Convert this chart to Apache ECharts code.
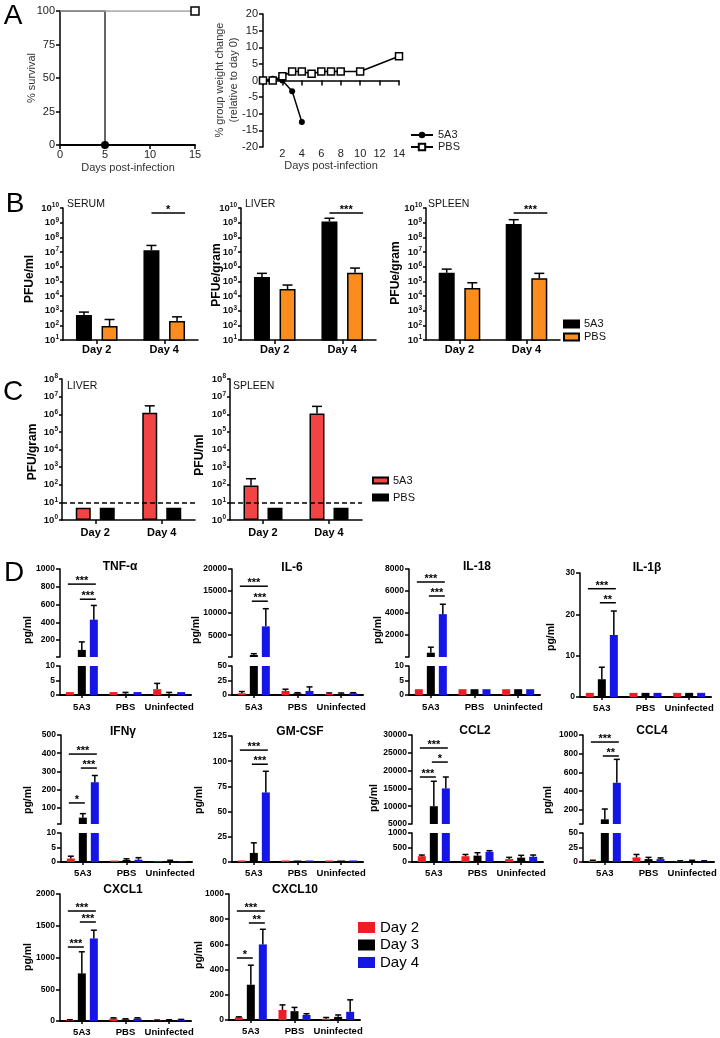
<!DOCTYPE html>
<html>
<head>
<meta charset="utf-8">
<script src="https://cdn.jsdelivr.net/npm/echarts@6.0.0/dist/echarts.min.js"></script>
<style>
html,body{margin:0;padding:0;background:#fff;}
#chart{width:720px;height:1038px;}
</style>
</head>
<body>
<div id="chart"></div>
<script>
// ================= DATA =================
// Panel A - survival
const survDays5A3 = [0, 5];
const survPct5A3 = [100, 0];
const survDaysPBS = [0, 15];
const survPctPBS = [100, 100];
// Panel A - weight change
const weightDays5A3 = [0, 1, 2, 3, 4];
const weightChange5A3 = [0, 0.5, 0, -3.2, -12.5];
const weightDaysPBS = [0, 1, 2, 3, 4, 5, 6, 7, 8, 10, 14];
const weightChangePBS = [0, 0, 1.3, 2.7, 2.7, 2, 2.7, 2.7, 2.7, 2.7, 7.3];

// Panel B - viral titers (PFUe)
const dayCats = ['Day 2', 'Day 4'];
const serum5A3 = [500, 1.3e7];
const serum5A3Sd = [300, 1.5e7];
const serumPBS = [90, 200];
const serumPBSSd = [160, 180];
const liver5A3 = [2e5, 1.2e9];
const liver5A3Sd = [1.5e5, 8e8];
const liverPBS = [3e4, 3.8e5];
const liverPBSSd = [2.6e4, 4.2e5];
const spleen5A3 = [3.8e5, 8e8];
const spleen5A3Sd = [3e5, 8e8];
const spleenPBS = [3.5e4, 1.6e5];
const spleenPBSSd = [4.5e4, 1.9e5];
// [category, y value, from bar, to bar, label]
const serumSig = [[1, 4.6e9, 0, 1, '*']];
const liverSig = [[1, 4.6e9, 0, 1, '***']];
const spleenSig = [[1, 4.6e9, 0, 1, '***']];

// Panel C - infectious virus (PFU)
const cLiver5A3 = [5, 1.2e6];
const cLiver5A3Sd = [0, 1.8e6];
const cLiverPBS = [5, 5];
const cSpleen5A3 = [90, 1.1e6];
const cSpleen5A3Sd = [130, 1.7e6];
const cSpleenPBS = [5, 5];
const detectionLimit = 10;

// Panel D - cytokines (pg/ml); arrays are per group [5A3, PBS, Uninfected]
const groups = ['5A3', 'PBS', 'Uninfected'];
const dayNames = ['Day 2', 'Day 3', 'Day 4'];

const tnfDay2 = [1, 1, 2],        tnfDay3 = [90, 0.4, 0.4],     tnfDay4 = [430, 1, 1];
const tnfSd2 = [0, 0, 2],         tnfSd3 = [90, 0.5, 0.5],      tnfSd4 = [160, 0, 0];
const il6Day2 = [3, 7, 2],        il6Day3 = [500, 3, 2],        il6Day4 = [7000, 7, 3];
const il6Sd2 = [3, 3, 1.5],       il6Sd3 = [300, 1, 1.5],       il6Sd4 = [4000, 7, 1];
const il18Day2 = [2, 2, 2],       il18Day3 = [400, 2, 2],       il18Day4 = [3900, 2, 2];
const il18Sd2 = [0, 0, 0],        il18Sd3 = [500, 0, 0],        il18Sd4 = [900, 0, 0];
const il1bDay2 = [1, 1, 1],       il1bDay3 = [4.3, 1, 1],       il1bDay4 = [15, 1, 1];
const il1bSd2 = [0, 0, 0],        il1bSd3 = [2.9, 0, 0],        il1bSd4 = [5.8, 0, 0];
const ifngDay2 = [1.2, 0.5, 0.2], ifngDay3 = [45, 0.7, 0.3],    ifngDay4 = [240, 0.8, 0.3];
const ifngSd2 = [0.8, 0, 0],      ifngSd3 = [22, 0.4, 0.3],     ifngSd4 = [37, 0.7, 0];
const gmcsfDay2 = [1.5, 1.5, 1.5], gmcsfDay3 = [9, 1.5, 1.5],   gmcsfDay4 = [69, 1.5, 1.5];
const gmcsfSd2 = [0, 0, 0],       gmcsfSd3 = [10, 0, 0],        gmcsfSd4 = [21, 0, 0];
const ccl2Day2 = [200, 200, 100], ccl2Day3 = [10000, 220, 150], ccl2Day4 = [15000, 350, 180];
const ccl2Sd2 = [40, 60, 60],     ccl2Sd3 = [7000, 100, 80],    ccl2Sd4 = [3200, 40, 60];
const ccl4Day2 = [2, 8, 1.5],     ccl4Day3 = [100, 5, 1.5],     ccl4Day4 = [490, 5, 1.5];
const ccl4Sd2 = [1, 5, 0.5],      ccl4Sd3 = [110, 3, 1.5],      ccl4Sd4 = [250, 2, 0.5];
const cxcl1Day2 = [15, 40, 10],   cxcl1Day3 = [750, 25, 15],    cxcl1Day4 = [1300, 40, 20];
const cxcl1Sd2 = [5, 10, 5],      cxcl1Sd3 = [340, 10, 5],      cxcl1Sd4 = [130, 10, 5];
const cxcl10Day2 = [20, 80, 10],  cxcl10Day3 = [280, 70, 25],   cxcl10Day4 = [600, 40, 65];
const cxcl10Sd2 = [5, 40, 10],    cxcl10Sd3 = [155, 30, 15],    cxcl10Sd4 = [120, 10, 95];

// significance: [group, y value, from day, to day, label]
const tnfSig = [[0, 830, 0, 2, '***'], [0, 660, 1, 2, '***']];
const il6Sig = [[0, 16100, 0, 2, '***'], [0, 12700, 1, 2, '***']];
const il18Sig = [[0, 6820, 0, 2, '***'], [0, 5550, 1, 2, '***']];
const il1bSig = [[0, 26.2, 0, 2, '***'], [0, 22.8, 1, 2, '**']];
const ifngSig = [[0, 395, 0, 2, '***'], [0, 318, 1, 2, '***'], [0, 126, 0, 1, '*']];
const gmcsfSig = [[0, 111, 0, 2, '***'], [0, 97, 1, 2, '***']];
const ccl2Sig = [[0, 26350, 0, 2, '***'], [0, 22400, 1, 2, '*'], [0, 18200, 0, 1, '***']];
const ccl4Sig = [[0, 925, 0, 2, '***'], [0, 776, 1, 2, '**']];
const cxcl1Sig = [[0, 1732, 0, 2, '***'], [0, 1559, 1, 2, '***'], [0, 1165, 0, 1, '***']];
const cxcl10Sig = [[0, 865, 0, 2, '***'], [0, 770, 1, 2, '**'], [0, 492, 0, 1, '*']];

// axis tick labels for broken axes
const tnfUpperTicks = [200, 400, 600, 800, 1000];
const il6UpperTicks = [5000, 10000, 15000, 20000];
const il18UpperTicks = [2000, 4000, 6000, 8000];
const ifngUpperTicks = [100, 200, 300, 400, 500];
const ccl2UpperTicks = [5000, 10000, 15000, 20000, 25000, 30000];
const ccl4UpperTicks = [200, 400, 600, 800, 1000];

// ================= BUILD =================
const FF = '"Liberation Sans", Arial, Helvetica, sans-serif';
const grid = [], xAxis = [], yAxis = [], series = [], graphic = [], legend = [];
const AX = {color: '#000', width: 1.5};
const dayColors = ['#ee1d23', '#000000', '#1515e6'];
const plain = v => String(v);

function ax(arr, o) { arr.push(o); return arr.length - 1; }
function addGrid(left, top, width, height) {
  grid.push({left, top, width, height, containLabel: false, outerBoundsMode: 'none'});
  return grid.length - 1;
}
function txt(x, y, text, font, opt) {
  opt = opt || {};
  const al = opt.align || 'center';
  graphic.push({type: 'text', x, y, rotation: opt.rot || 0, z: 100, silent: true,
    style: {text, font, fill: opt.fill || '#000', align: al, textAlign: al,
      verticalAlign: 'middle', textVerticalAlign: 'middle'}});
}
function errSeries(xi, yi, vals, sds, offset, capW, lw, lo, hi) {
  series.push({type: 'custom', xAxisIndex: xi, yAxisIndex: yi, silent: true, z: 3,
    data: vals.map((v, i) => [i, v, sds[i]]),
    renderItem(params, api) {
      const c = api.value(0), v = api.value(1), sd = api.value(2);
      if (!(sd > 0) || isNaN(v)) return null;
      if (lo != null && v <= lo) return null;
      if (hi != null && v >= hi) return null;
      const p0 = api.coord([c, v]), p1 = api.coord([c, v + sd]);
      const x = p0[0] + offset;
      return {type: 'group', children: [
        {type: 'line', shape: {x1: x, y1: p0[1], x2: x, y2: p1[1]}, style: {stroke: '#000', lineWidth: lw}},
        {type: 'line', shape: {x1: x - capW / 2, y1: p1[1], x2: x + capW / 2, y2: p1[1]}, style: {stroke: '#000', lineWidth: lw}}
      ]};
    }});
}
function sigSeries(xi, yi, sigs, offsets, ext, fs) {
  series.push({type: 'custom', xAxisIndex: xi, yAxisIndex: yi, silent: true, z: 4,
    data: sigs.map(s => [s[0], s[1], s[2], s[3]]),
    renderItem(params, api) {
      const s = sigs[params.dataIndex];
      const p = api.coord([s[0], s[1]]);
      const x1 = p[0] + offsets[s[2]] - ext[0], x2 = p[0] + offsets[s[3]] + ext[1];
      return {type: 'group', children: [
        {type: 'line', shape: {x1, y1: p[1], x2, y2: p[1]}, style: {stroke: '#000', lineWidth: 1.5}},
        {type: 'text', x: (x1 + x2) / 2, y: p[1] - 3,
          style: {text: s[4], font: 'bold ' + fs + 'px ' + FF, fill: '#000', align: 'center', textAlign: 'center', verticalAlign: 'middle', textVerticalAlign: 'middle'}}
      ]};
    }});
}

// ---------- Panel A ----------
txt(13, 16, 'A', '28px ' + FF);
{
  const g = addGrid(60, 11, 135, 134);
  const xi = ax(xAxis, {gridIndex: g, type: 'value', min: 0, max: 15, interval: 5,
    axisLine: {show: true, onZero: false, lineStyle: {color: '#000', width: 2}},
    axisTick: {show: true, length: 4, lineStyle: AX},
    axisLabel: {fontSize: 11, color: '#222', margin: 4, formatter: plain}, splitLine: {show: false}});
  const yi = ax(yAxis, {gridIndex: g, type: 'value', min: 0, max: 100, interval: 25,
    axisLine: {show: true, onZero: false, lineStyle: AX},
    axisTick: {show: true, length: 4, lineStyle: AX},
    axisLabel: {fontSize: 11, color: '#222', margin: 5, formatter: plain}, splitLine: {show: false}});
  series.push({type: 'line', name: 'Survival 5A3', xAxisIndex: xi, yAxisIndex: yi, step: 'end', z: 3,
    data: survDays5A3.map((d, i) => ({value: [d, survPct5A3[i]], symbol: i === survDays5A3.length - 1 ? 'circle' : 'none'})),
    symbolSize: 8, lineStyle: {color: '#333', width: 1.5}, itemStyle: {color: '#000'}});
  series.push({type: 'line', name: 'Survival PBS', xAxisIndex: xi, yAxisIndex: yi, z: 3,
    data: survDaysPBS.map((d, i) => ({value: [d, survPctPBS[i]], symbol: i === survDaysPBS.length - 1 ? 'rect' : 'none'})),
    symbolSize: 8, lineStyle: {color: '#999', width: 1.5}, itemStyle: {color: '#fff', borderColor: '#000', borderWidth: 1.5}});
  txt(32, 78, '% survival', '11px ' + FF, {rot: Math.PI / 2, fill: '#333'});
  txt(128, 168, 'Days post-infection', '11px ' + FF, {fill: '#333'});
}
{
  const g = addGrid(263, 14, 136, 133);
  const xb = ax(xAxis, {gridIndex: g, type: 'value', position: 'bottom', min: 0, max: 14, interval: 2,
    axisLine: {show: false, onZero: false}, axisTick: {show: false},
    axisLabel: {fontSize: 11, color: '#222', margin: 1, formatter: v => v === 0 ? '' : String(v)},
    splitLine: {show: false}});
  ax(xAxis, {gridIndex: g, type: 'value', position: 'top', min: 0, max: 14, interval: 2,
    axisLine: {show: true, onZero: true, lineStyle: AX},
    axisTick: {show: true, inside: true, length: 5, lineStyle: AX},
    axisLabel: {show: false}, splitLine: {show: false}});
  const yi = ax(yAxis, {gridIndex: g, type: 'value', min: -20, max: 20, interval: 5,
    axisLine: {show: true, onZero: false, lineStyle: AX},
    axisTick: {show: true, length: 4, lineStyle: AX},
    axisLabel: {fontSize: 11, color: '#222', margin: 5, formatter: plain}, splitLine: {show: false}});
  series.push({type: 'line', name: '5A3', xAxisIndex: xb, yAxisIndex: yi,
    data: weightDays5A3.map((d, i) => [d, weightChange5A3[i]]),
    symbol: 'circle', symbolSize: 6, lineStyle: {color: '#000', width: 1.5}, itemStyle: {color: '#000'}});
  series.push({type: 'line', name: 'PBS', xAxisIndex: xb, yAxisIndex: yi,
    data: weightDaysPBS.map((d, i) => [d, weightChangePBS[i]]),
    symbol: 'rect', symbolSize: 7, lineStyle: {color: '#000', width: 1.5},
    itemStyle: {color: '#fff', borderColor: '#000', borderWidth: 1.5}});
  txt(220, 80, '% group weight change', '11px ' + FF, {rot: Math.PI / 2, fill: '#333'});
  txt(234, 80, '(relative to day 0)', '11px ' + FF, {rot: Math.PI / 2, fill: '#333'});
  txt(331, 166, 'Days post-infection', '11px ' + FF, {fill: '#333'});
  legend.push({left: 410, top: 129.5, orient: 'vertical', padding: 0, itemWidth: 22, itemHeight: 8, itemGap: 1,
    selectedMode: false, data: ['5A3', 'PBS'],
    textStyle: {fontSize: 11, color: '#222', lineHeight: 11, fontFamily: FF}});
}

// ---------- Panels B & C (log axes) ----------
function logPanel(p) {
  const g = addGrid(p.left, p.top, p.width, p.height);
  const xi = ax(xAxis, {gridIndex: g, type: 'category', data: dayCats,
    axisLine: {show: true, lineStyle: AX},
    axisTick: {show: true, alignWithLabel: true, length: 4, lineStyle: AX},
    axisLabel: {interval: 0, fontSize: 11, fontWeight: 'bold', color: '#000', margin: p.labelMargin}});
  const yi = ax(yAxis, {gridIndex: g, type: 'log', logBase: 10, min: p.min, max: p.max, splitNumber: 10,
    axisLine: {show: true, onZero: false, lineStyle: AX},
    axisTick: {show: true, length: 3, lineStyle: AX}, minorTick: {show: false}, splitLine: {show: false},
    axisLabel: {margin: 4, color: '#000',
      formatter: v => '{b|10}{s|' + Math.round(Math.log10(v)) + '}',
      rich: {b: {fontSize: 9.5, fontWeight: 'bold', lineHeight: 12, fontFamily: FF, color: '#111'},
             s: {fontSize: 6.5, fontWeight: 'bold', lineHeight: 8, verticalAlign: 'top', fontFamily: FF, color: '#111'}}}});
  const sp = p.barWidth * (1 + p.gap);
  const offs = [-sp / 2, sp / 2];
  p.sets.forEach((s, k) => {
    const ser = {type: 'bar', name: s.name, xAxisIndex: xi, yAxisIndex: yi, clip: true,
      barWidth: p.barWidth, barGap: (p.gap * 100) + '%',
      itemStyle: {color: s.color, borderColor: '#000', borderWidth: 1.5}, data: s.vals};
    if (p.lod != null && k === p.sets.length - 1) {
      ser.markLine = {silent: true, symbol: ['none', 'none'], label: {show: false},
        lineStyle: {type: [5, 3], color: '#000', width: 1.5}, data: [{yAxis: p.lod}]};
    }
    series.push(ser);
  });
  p.sets.forEach((s, k) => { if (s.sd) errSeries(xi, yi, s.vals, s.sd, offs[k], 10, 1.5); });
  if (p.sig) sigSeries(xi, yi, p.sig, offs, [0, p.barWidth / 2], 11);
}

txt(15, 204, 'B', '28px ' + FF);
const bSets = (a, aSd, b, bSd) => [
  {name: '5A3 ', vals: a, sd: aSd, color: '#000'},
  {name: 'PBS ', vals: b, sd: bSd, color: '#fb8c1e'}];
logPanel({left: 63, top: 208, width: 135, height: 132, min: 10, max: 1e10, barWidth: 16, gap: 0.6, labelMargin: 4,
  sets: bSets(serum5A3, serum5A3Sd, serumPBS, serumPBSSd), sig: serumSig});
logPanel({left: 241, top: 208, width: 135, height: 132, min: 10, max: 1e10, barWidth: 16, gap: 0.6, labelMargin: 4,
  sets: bSets(liver5A3, liver5A3Sd, liverPBS, liverPBSSd), sig: liverSig});
logPanel({left: 426, top: 208, width: 134, height: 132, min: 10, max: 1e10, barWidth: 16, gap: 0.6, labelMargin: 4,
  sets: bSets(spleen5A3, spleen5A3Sd, spleenPBS, spleenPBSSd), sig: spleenSig});
txt(67, 204, 'SERUM', '10.5px ' + FF, {align: 'left', fill: '#111'});
txt(245, 204, 'LIVER', '10.5px ' + FF, {align: 'left', fill: '#111'});
txt(428, 204, 'SPLEEN', '10.5px ' + FF, {align: 'left', fill: '#111'});
txt(30, 279, 'PFUe/ml', 'bold 12px ' + FF, {rot: Math.PI / 2});
txt(217, 275, 'PFUe/gram', 'bold 12px ' + FF, {rot: Math.PI / 2});
txt(396, 273, 'PFUe/gram', 'bold 12px ' + FF, {rot: Math.PI / 2});
legend.push({left: 563, top: 318.5, orient: 'vertical', padding: 0, itemWidth: 15, itemHeight: 7, itemGap: 2,
  icon: 'rect', selectedMode: false, data: ['5A3 ', 'PBS '], formatter: n => n.trim(),
  textStyle: {fontSize: 11, color: '#111', lineHeight: 11, fontFamily: FF}});

txt(13, 392, 'C', '28px ' + FF);
const cSets = (a, aSd, b) => [
  {name: '5A3  ', vals: a, sd: aSd, color: '#f24444'},
  {name: 'PBS  ', vals: b, sd: null, color: '#000'}];
logPanel({left: 62, top: 379, width: 133, height: 141, min: 1, max: 1e8, barWidth: 15, gap: 0.6, labelMargin: 7,
  sets: cSets(cLiver5A3, cLiver5A3Sd, cLiverPBS), lod: detectionLimit});
logPanel({left: 230, top: 379, width: 132, height: 141, min: 1, max: 1e8, barWidth: 15, gap: 0.6, labelMargin: 7,
  sets: cSets(cSpleen5A3, cSpleen5A3Sd, cSpleenPBS), lod: detectionLimit});
txt(67, 386, 'LIVER', '10.5px ' + FF, {align: 'left', fill: '#111'});
txt(233, 386, 'SPLEEN', '10.5px ' + FF, {align: 'left', fill: '#111'});
txt(33, 452, 'PFU/gram', 'bold 12px ' + FF, {rot: Math.PI / 2});
txt(200, 455, 'PFU/ml', 'bold 12px ' + FF, {rot: Math.PI / 2});
legend.push({left: 372, top: 475, orient: 'vertical', padding: 0, itemWidth: 15, itemHeight: 6, itemGap: 6,
  icon: 'rect', selectedMode: false, data: ['5A3  ', 'PBS  '], formatter: n => n.trim(),
  textStyle: {fontSize: 11, color: '#111', lineHeight: 11, fontFamily: FF}});

// ---------- Panel D ----------
txt(14, 573, 'D', '28px ' + FF);
const DOFF = [-12, 0, 12];
function catAxis(gi, show, margin) {
  if (!show) return ax(xAxis, {gridIndex: gi, type: 'category', data: groups, show: false});
  return ax(xAxis, {gridIndex: gi, type: 'category', data: groups,
    axisLine: {show: true, lineStyle: {color: '#000', width: 2}},
    axisTick: {show: true, alignWithLabel: true, length: 3, lineStyle: AX},
    axisLabel: {interval: 0, fontSize: 9.5, fontWeight: 'bold', color: '#000', margin: margin}});
}
function valAxis(gi, o) {
  const tick = {show: true, length: 4, lineStyle: AX};
  const label = {fontSize: 8.5, fontWeight: 'bold', color: '#000', margin: 5, fontFamily: FF, formatter: plain};
  if (o.ticks) tick.customValues = o.ticks;
  if (o.labels) label.customValues = o.labels;
  const a = {gridIndex: gi, type: 'value', min: o.min, max: o.max,
    axisLine: {show: true, onZero: false, lineStyle: AX}, axisTick: tick, axisLabel: label, splitLine: {show: false}};
  if (o.interval) a.interval = o.interval;
  return ax(yAxis, a);
}
function cyto(c) {
  const addBars = (xi, yi, filt) => c.vals.forEach((arr, d) => series.push({type: 'bar', name: dayNames[d],
    xAxisIndex: xi, yAxisIndex: yi, clip: true, barWidth: 8, barGap: '50%',
    itemStyle: {color: dayColors[d]}, data: arr.map(filt)}));
  const addErr = (xi, yi, lo, hi) => c.vals.forEach((arr, d) => errSeries(xi, yi, arr, c.sds[d], DOFF[d], 6, 1.5, lo, hi));
  if (c.upper) {
    const gU = addGrid(c.left, c.top, c.width, c.upperBottom - c.top);
    const gL = addGrid(c.left, c.lowerTop, c.width, c.bottom - c.lowerTop);
    const xU = catAxis(gU, false), xL = catAxis(gL, true, c.margin);
    const yU = valAxis(gU, {min: c.upper[0], max: c.upper[1], ticks: [c.upper[0]].concat(c.upperTicks), labels: c.upperTicks});
    const yL = valAxis(gL, {min: 0, max: c.lowerMax, interval: c.lowerMax / 2});
    addBars(xU, yU, v => v > c.upper[0] ? v : '-');
    addBars(xL, yL, v => v);
    addErr(xU, yU, c.upper[0], null);
    addErr(xL, yL, null, c.lowerMax);
    sigSeries(xU, yU, c.sig, DOFF, [2, 2], 11);
  } else {
    const g = addGrid(c.left, c.top, c.width, c.bottom - c.top);
    const xi = catAxis(g, true, c.margin);
    const yi = valAxis(g, {min: 0, max: c.max, interval: c.interval});
    addBars(xi, yi, v => v);
    addErr(xi, yi, null, null);
    sigSeries(xi, yi, c.sig, DOFF, [2, 2], 11);
  }
  txt(c.title[1], c.title[2], c.title[0], 'bold 12px ' + FF);
  txt(c.ylab[0], c.ylab[1], 'pg/ml', 'bold 10.5px ' + FF, {rot: Math.PI / 2});
}
const W = 131;
cyto({left: 60, width: W, top: 569, upperBottom: 657, lowerTop: 666, bottom: 695, margin: 7,
  upper: [10, 1000], upperTicks: tnfUpperTicks, lowerMax: 10,
  vals: [tnfDay2, tnfDay3, tnfDay4], sds: [tnfSd2, tnfSd3, tnfSd4], sig: tnfSig,
  title: ['TNF-α', 120, 567], ylab: [28, 630]});
cyto({left: 232, width: W, top: 569, upperBottom: 657, lowerTop: 666, bottom: 695, margin: 7,
  upper: [50, 20000], upperTicks: il6UpperTicks, lowerMax: 50,
  vals: [il6Day2, il6Day3, il6Day4], sds: [il6Sd2, il6Sd3, il6Sd4], sig: il6Sig,
  title: ['IL-6', 292, 568], ylab: [196, 630]});
cyto({left: 409, width: W, top: 569, upperBottom: 657, lowerTop: 666, bottom: 695, margin: 7,
  upper: [10, 8000], upperTicks: il18UpperTicks, lowerMax: 10,
  vals: [il18Day2, il18Day3, il18Day4], sds: [il18Sd2, il18Sd3, il18Sd4], sig: il18Sig,
  title: ['IL-18', 477, 567], ylab: [378, 630]});
cyto({left: 580, width: W, top: 573, bottom: 697, margin: 6, max: 30, interval: 10,
  vals: [il1bDay2, il1bDay3, il1bDay4], sds: [il1bSd2, il1bSd3, il1bSd4], sig: il1bSig,
  title: ['IL-1β', 647, 568], ylab: [551, 637]});

cyto({left: 61, width: W, top: 735, upperBottom: 824, lowerTop: 833, bottom: 862, margin: 6.5,
  upper: [10, 500], upperTicks: ifngUpperTicks, lowerMax: 10,
  vals: [ifngDay2, ifngDay3, ifngDay4], sds: [ifngSd2, ifngSd3, ifngSd4], sig: ifngSig,
  title: ['IFNγ', 123, 732], ylab: [28, 800]});
cyto({left: 232, width: W, top: 736, bottom: 862, margin: 6.5, max: 125, interval: 25,
  vals: [gmcsfDay2, gmcsfDay3, gmcsfDay4], sds: [gmcsfSd2, gmcsfSd3, gmcsfSd4], sig: gmcsfSig,
  title: ['GM-CSF', 300, 732], ylab: [199, 800]});
cyto({left: 412, width: W, top: 735, upperBottom: 824, lowerTop: 833, bottom: 862, margin: 6.5,
  upper: [5000, 30000], upperTicks: ccl2UpperTicks, lowerMax: 1000,
  vals: [ccl2Day2, ccl2Day3, ccl2Day4], sds: [ccl2Sd2, ccl2Sd3, ccl2Sd4], sig: ccl2Sig,
  title: ['CCL2', 475, 731], ylab: [374, 798]});
cyto({left: 583, width: W, top: 735, upperBottom: 824, lowerTop: 833, bottom: 862, margin: 6.5,
  upper: [50, 1000], upperTicks: ccl4UpperTicks, lowerMax: 50,
  vals: [ccl4Day2, ccl4Day3, ccl4Day4], sds: [ccl4Sd2, ccl4Sd3, ccl4Sd4], sig: ccl4Sig,
  title: ['CCL4', 652, 731], ylab: [548, 800]});

cyto({left: 60, width: W, top: 894, bottom: 1021, margin: 6.5, max: 2000, interval: 500,
  vals: [cxcl1Day2, cxcl1Day3, cxcl1Day4], sds: [cxcl1Sd2, cxcl1Sd3, cxcl1Sd4], sig: cxcl1Sig,
  title: ['CXCL1', 123, 890], ylab: [28, 957]});
cyto({left: 229, width: W, top: 894, bottom: 1020, margin: 6.5, max: 1000, interval: 200,
  vals: [cxcl10Day2, cxcl10Day3, cxcl10Day4], sds: [cxcl10Sd2, cxcl10Sd3, cxcl10Sd4], sig: cxcl10Sig,
  title: ['CXCL10', 295, 890], ylab: [199, 955]});

legend.push({left: 358, top: 920, orient: 'vertical', padding: 0, itemWidth: 17, itemHeight: 11, itemGap: 2.5,
  icon: 'rect', selectedMode: false, data: dayNames,
  textStyle: {fontSize: 15, color: '#000', lineHeight: 15, fontFamily: FF}});

const chart = echarts.init(document.getElementById('chart'), null, {renderer: 'canvas'});
chart.setOption({
  animation: false,
  backgroundColor: '#fff',
  textStyle: {fontFamily: FF},
  tooltip: {show: false},
  grid, xAxis, yAxis, series, legend,
  graphic: {elements: graphic}
});
</script>
</body>
</html>
